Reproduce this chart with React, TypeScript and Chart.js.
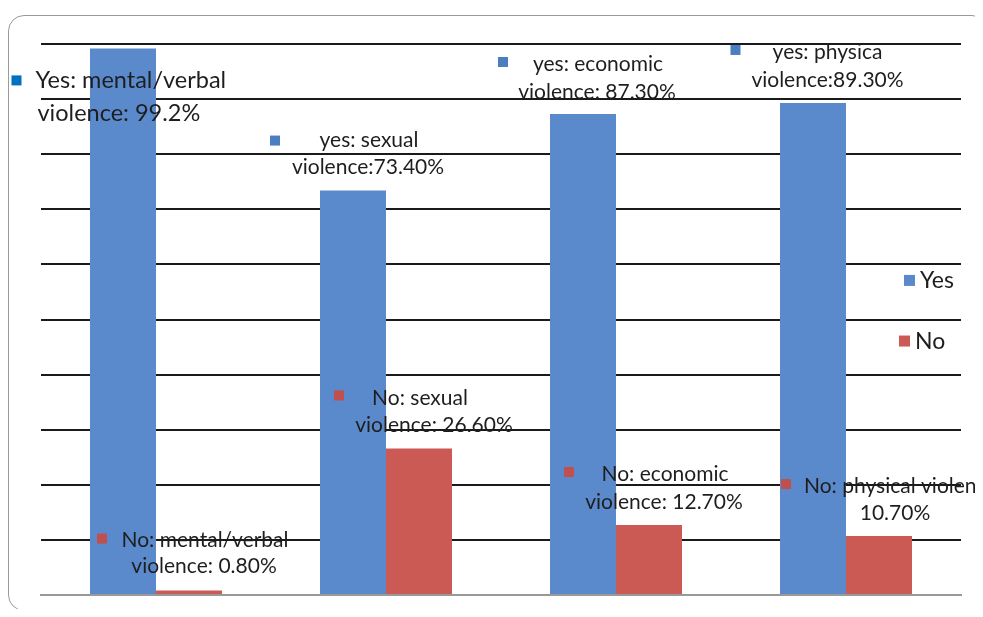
import React, { useEffect, useRef } from "react";
import { Chart, registerables } from "chart.js";

Chart.register(...registerables);

const categories = ["mental/verbal", "sexual", "economic", "physical"];
const yesValues = [99.2, 73.4, 87.3, 89.3];
const noValues = [0.8, 26.6, 12.7, 10.7];
const yTicks = [0, 10, 20, 30, 40, 50, 60, 70, 80, 90, 100];

const yesLabels = [
  ["Yes: mental/verbal", "violence: 99.2%"],
  ["yes: sexual", "violence:73.40%"],
  ["yes: economic", "violence: 87.30%"],
  ["yes: physica", "violence:89.30%"],
];
const noLabels = [
  ["No: mental/verbal", "violence: 0.80%"],
  ["No: sexual", "violence: 26.60%"],
  ["No: economic", "violence: 12.70%"],
  ["No: physical violence", "10.70%"],
];

const BLUE = "#5A8ACB";
const RED = "#CB5A55";

// label layout: offsets relative to bar (center x, top y)
type LineLayout = { dx: number; dy: number; align: CanvasTextAlign };
type LabelLayout = { sq: [number, number]; sqColor: string; lines: LineLayout[]; size: number };

const yesLayout: LabelLayout[] = [
  { sq: [-106.5, 32], sqColor: "#0070C0", size: 23.5, lines: [{ dx: -87.5, dy: 32, align: "left" }, { dx: -85.5, dy: 65, align: "left" }] },
  { sq: [-78, -50], sqColor: "#4A7EC0", size: 21, lines: [{ dx: 16, dy: -50, align: "center" }, { dx: 15, dy: -23, align: "center" }] },
  { sq: [-80, -52], sqColor: "#4A7EC0", size: 21, lines: [{ dx: 15, dy: -50, align: "center" }, { dx: 14, dy: -22, align: "center" }] },
  { sq: [-77.5, -53], sqColor: "#4A7EC0", size: 21, lines: [{ dx: 14.5, dy: -51, align: "center" }, { dx: 14.5, dy: -23, align: "center" }] },
];
const noLayout: LabelLayout[] = [
  { sq: [-87, -52], sqColor: "#C0504D", size: 21, lines: [{ dx: 16, dy: -50, align: "center" }, { dx: 15, dy: -24, align: "center" }] },
  { sq: [-80, -53], sqColor: "#C0504D", size: 21, lines: [{ dx: 1, dy: -50, align: "center" }, { dx: 15, dy: -23, align: "center" }] },
  { sq: [-80, -53], sqColor: "#C0504D", size: 21, lines: [{ dx: 16, dy: -51, align: "center" }, { dx: 15, dy: -23, align: "center" }] },
  { sq: [-93, -52], sqColor: "#C0504D", size: 21, lines: [{ dx: -75, dy: -50, align: "left" }, { dx: 16, dy: -23, align: "center" }] },
];

const FONT = "Lato, 'Open Sans', sans-serif";

const labelPlugin = {
  id: "customLabels",
  afterDatasetsDraw(chart: any) {
    const ctx = chart.ctx as CanvasRenderingContext2D;
    ctx.save();
    const sets = [
      { meta: chart.getDatasetMeta(0), texts: yesLabels, layout: yesLayout },
      { meta: chart.getDatasetMeta(1), texts: noLabels, layout: noLayout },
    ];
    for (const s of sets) {
      s.meta.data.forEach((bar: any, i: number) => {
        const lay = s.layout[i];
        const bx = bar.x;
        const by = bar.y;
        ctx.fillStyle = lay.sqColor;
        ctx.fillRect(bx + lay.sq[0] - 5, by + lay.sq[1] - 5, 10, 10);
        ctx.fillStyle = "#1e1e1e";
        ctx.font = `${lay.size}px ${FONT}`;
        ctx.textBaseline = "middle";
        s.texts[i].forEach((t: string, j: number) => {
          const l = lay.lines[j];
          ctx.textAlign = l.align;
          ctx.fillText(t, bx + l.dx, by + l.dy);
        });
      });
    }
    // legend
    const area = chart.chartArea;
    const items = [
      { text: "Yes", color: BLUE, v: 57 },
      { text: "No", color: RED, v: 46 },
    ];
    const ys = chart.scales.y;
    ctx.font = `23px ${FONT}`;
    ctx.textAlign = "left";
    ctx.textBaseline = "middle";
    items.forEach((it, k) => {
      const y = ys.getPixelForValue(it.v);
      const sx = k === 0 ? area.right - 57 : area.right - 62;
      ctx.fillStyle = it.color;
      ctx.fillRect(sx, y - 6, 11, 11);
      ctx.fillStyle = "#1e1e1e";
      ctx.fillText(it.text, sx + 16, y);
    });
    ctx.restore();
  },
};

export default function App() {
  const ref = useRef<HTMLCanvasElement>(null);
  useEffect(() => {
    if (!ref.current) return;
    const chart = new Chart(ref.current, {
      type: "bar",
      data: {
        labels: categories,
        datasets: [
          { label: "Yes", data: yesValues, backgroundColor: BLUE, barPercentage: 1, categoryPercentage: 0.574 },
          { label: "No", data: noValues, backgroundColor: RED, barPercentage: 1, categoryPercentage: 0.574 },
        ],
      },
      options: {
        animation: false,
        responsive: false,
        maintainAspectRatio: false,
        layout: { padding: { left: 41, right: 22, top: 44, bottom: 14 } },
        plugins: { legend: { display: false }, tooltip: { enabled: false } },
        scales: {
          x: {
            grid: { display: false },
            ticks: { display: false },
            border: { display: true, color: "#999999", width: 2 },
          },
          y: {
            min: 0,
            max: 100,
            afterBuildTicks: (axis: any) => {
              axis.ticks = yTicks.map((v) => ({ value: v }));
            },
            ticks: { display: false },
            grid: {
              color: (c: any) => (c.tick && c.tick.value === 0 ? "#999999" : "#1a1a1a"),
              lineWidth: 2,
              drawTicks: false,
            },
            border: { display: false },
          },
        },
      },
      plugins: [labelPlugin],
    });
    return () => chart.destroy();
  }, []);
  return (
    <div style={{ position: "relative", width: 983, height: 617, margin: -8, overflow: "hidden", background: "#fff" }}>
      <div
        style={{
          position: "absolute",
          left: 8,
          top: 15,
          width: 980,
          height: 596,
          border: "1.5px solid #9a9a9a",
          borderRadius: 16,
          boxSizing: "border-box",
        }}
      />
      <canvas ref={ref} width={983} height={617} style={{ position: "absolute", left: 0, top: 0 }} />
    </div>
  );
}
